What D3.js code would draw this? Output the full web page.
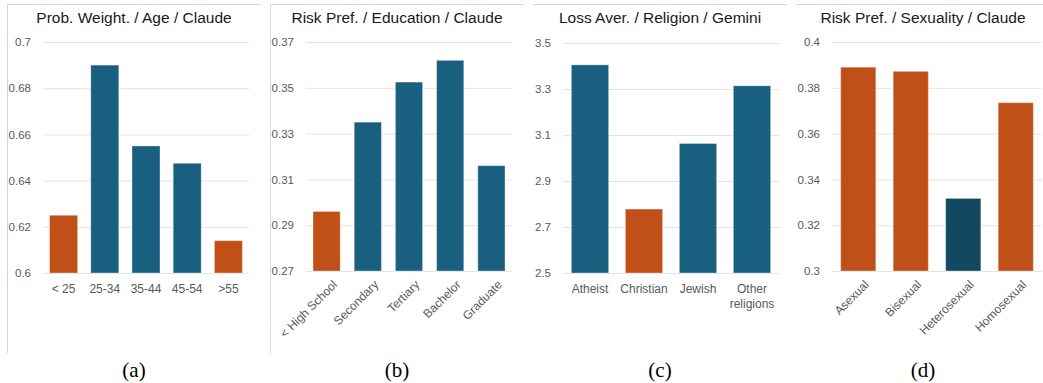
<!DOCTYPE html>
<html>
<head>
<meta charset="utf-8">
<script src="https://cdn.jsdelivr.net/npm/d3@7"></script>
<style>
  html, body { margin: 0; padding: 0; background: #ffffff; }
  svg { display: block; }
</style>
</head>
<body>
<svg id="chart" width="1043" height="383"></svg>
<script>
// ---- data ----
// tone: 0 = blue, 1 = orange, 2 = dark blue
const ageCats = ["< 25", "25-34", "35-44", "45-54", ">55"];
const ageVals = [0.625, 0.690, 0.655, 0.6475, 0.614];
const ageTone = [1, 0, 0, 0, 1];
const ageTicks = ["0.6", "0.62", "0.64", "0.66", "0.68", "0.7"];

const eduCats = ["< High School", "Secondary", "Tertiary", "Bachelor", "Graduate"];
const eduVals = [0.296, 0.335, 0.3525, 0.362, 0.316];
const eduTone = [1, 0, 0, 0, 0];
const eduTicks = ["0.27", "0.29", "0.31", "0.33", "0.35", "0.37"];

const relCats = ["Atheist", "Christian", "Jewish", "Other religions"];
const relVals = [3.405, 2.778, 3.063, 3.314];
const relTone = [0, 1, 0, 0];
const relTicks = ["2.5", "2.7", "2.9", "3.1", "3.3", "3.5"];

const sexCats = ["Asexual", "Bisexual", "Heterosexual", "Homosexual"];
const sexVals = [0.389, 0.3872, 0.3317, 0.3735];
const sexTone = [1, 1, 2, 1];
const sexTicks = ["0.3", "0.32", "0.34", "0.36", "0.38", "0.4"];

const titles = [
  "Prob. Weight. / Age / Claude",
  "Risk Pref. / Education / Claude",
  "Loss Aver. / Religion / Gemini",
  "Risk Pref. / Sexuality / Claude"
];
const captions = ["(a)", "(b)", "(c)", "(d)"];

// ---- layout ----
const toneColor = ["#185f80", "#c05017", "#134861"];
const sans = "'Liberation Sans', Arial, sans-serif";

const panels = [
  { cats: ageCats, vals: ageVals, tone: ageTone, ticks: ageTicks,
    x0: 43, x1: 249, yTop: 42, yBot: 273, pad: 0.32, labels: "flat",
    cx: 134, frame: { left: 7, top: 4, right: 261, bottom: 353, side: true } },
  { cats: eduCats, vals: eduVals, tone: eduTone, ticks: eduTicks,
    x0: 306, x1: 512, yTop: 42, yBot: 271, pad: 0.34, labels: "slant",
    cx: 397, frame: { left: 270, top: 4, right: 524, bottom: 353, side: true } },
  { cats: relCats, vals: relVals, tone: relTone, ticks: relTicks,
    x0: 563, x1: 779, yTop: 43, yBot: 273, pad: 0.31, labels: "wrap",
    cx: 660, frame: { left: 533, top: 4, right: 787, bottom: 353, side: false } },
  { cats: sexCats, vals: sexVals, tone: sexTone, ticks: sexTicks,
    x0: 832, x1: 1042, yTop: 42, yBot: 271, pad: 0.33, labels: "slant",
    cx: 923, frame: { left: 796, top: 4, right: 1043, bottom: 353, side: false } }
];

const svg = d3.select("#chart");

panels.forEach((p, i) => {
  const g = svg.append("g");
  const tickNums = p.ticks.map(Number);

  const x = d3.scaleBand()
    .domain(p.cats)
    .range([p.x0, p.x1])
    .paddingInner(p.pad)
    .paddingOuter(p.pad / 2);

  const y = d3.scaleLinear()
    .domain([tickNums[0], tickNums[tickNums.length - 1]])
    .range([p.yBot, p.yTop]);

  // panel frame
  const f = p.frame;
  g.append("line")
    .attr("x1", f.left).attr("x2", f.right)
    .attr("y1", f.top + 0.5).attr("y2", f.top + 0.5)
    .attr("stroke", "#d6d6d6").attr("stroke-width", 1);
  if (f.side) {
    g.append("line")
      .attr("x1", f.left + 0.5).attr("x2", f.left + 0.5)
      .attr("y1", f.top).attr("y2", f.bottom)
      .attr("stroke", "#d6d6d6").attr("stroke-width", 1);
  }

  // title
  g.append("text")
    .attr("x", p.cx).attr("y", 23)
    .attr("text-anchor", "middle")
    .attr("font-family", sans)
    .attr("font-size", "15.5px")
    .attr("fill", "#1a1a1a")
    .text(titles[i]);

  // y axis: gridlines + labels
  const yAxis = d3.axisLeft(y)
    .tickValues(tickNums)
    .tickFormat((d, k) => p.ticks[k])
    .tickSize(-(p.x1 - p.x0))
    .tickPadding(12);
  const ya = g.append("g")
    .attr("transform", `translate(${p.x0},0)`)
    .call(yAxis);
  ya.select(".domain").remove();
  ya.selectAll(".tick line")
    .attr("stroke", "#e3e3e3").attr("stroke-width", 1);
  ya.selectAll(".tick text")
    .attr("font-family", sans)
    .attr("font-size", "11.5px")
    .attr("fill", "#595959");

  // bars
  g.append("g").selectAll("rect")
    .data(p.cats)
    .join("rect")
    .attr("x", d => x(d))
    .attr("width", x.bandwidth())
    .attr("y", (d, k) => y(p.vals[k]))
    .attr("height", (d, k) => y(tickNums[0]) - y(p.vals[k]))
    .attr("fill", (d, k) => toneColor[p.tone[k]])
    .attr("stroke", "rgba(255,255,255,0.35)")
    .attr("stroke-width", 1);

  // category labels
  const lab = g.append("g")
    .attr("font-family", sans)
    .attr("font-size", "12px")
    .attr("fill", "#595959");

  if (p.labels === "slant") {
    lab.selectAll("text")
      .data(p.cats)
      .join("text")
      .attr("transform", d => `translate(${x(d) + x.bandwidth() / 2 + 5},${p.yBot + 8}) rotate(-45)`)
      .attr("text-anchor", "end")
      .attr("dy", "0.75em")
      .text(d => d);
  } else {
    lab.selectAll("text")
      .data(p.cats)
      .join("text")
      .attr("x", d => x(d) + x.bandwidth() / 2)
      .attr("y", p.yBot + 20)
      .attr("text-anchor", "middle")
      .each(function (d) {
        const words = p.labels === "wrap" ? d.split(" ") : [d];
        const t = d3.select(this);
        words.forEach((w, k) => {
          t.append("tspan")
            .attr("x", x(d) + x.bandwidth() / 2)
            .attr("dy", k === 0 ? 0 : 15)
            .text(w);
        });
      });
  }

  // caption
  g.append("text")
    .attr("x", p.cx).attr("y", 377)
    .attr("text-anchor", "middle")
    .attr("font-family", "'Liberation Serif', 'Times New Roman', serif")
    .attr("font-size", "21px")
    .attr("fill", "#000")
    .text(captions[i]);
});
</script>
</body>
</html>
